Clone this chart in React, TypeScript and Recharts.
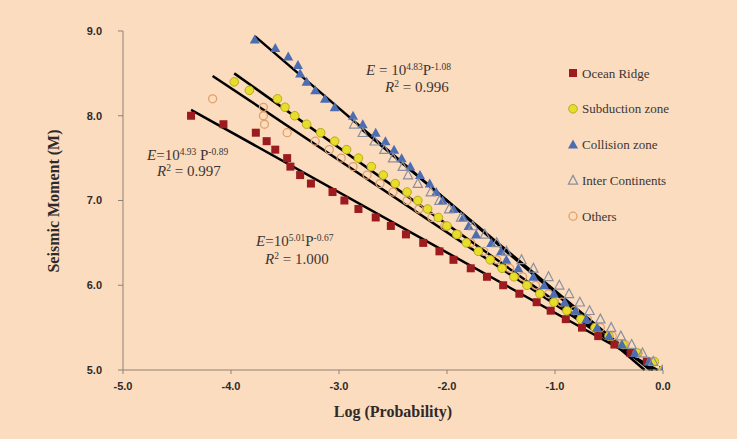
import React from 'react';
import { ScatterChart, Scatter, XAxis, YAxis, ReferenceLine, Customized } from 'recharts';

// ---- Data ----
const oceanM = [8.0, 7.9, 7.8, 7.7, 7.6, 7.5, 7.4, 7.3, 7.2, 7.1, 7.0, 6.9, 6.8, 6.7, 6.6, 6.5, 6.4, 6.3, 6.2, 6.1, 6.0, 5.9, 5.8, 5.7, 5.6, 5.5, 5.4, 5.3, 5.2, 5.1, 5.0];
const oceanLogP = [-4.37, -4.07, -3.77, -3.67, -3.59, -3.48, -3.45, -3.36, -3.26, -3.06, -2.95, -2.82, -2.66, -2.52, -2.38, -2.22, -2.07, -1.94, -1.78, -1.63, -1.48, -1.33, -1.17, -1.04, -0.9, -0.75, -0.6, -0.45, -0.3, -0.15, 0.0];

const subductionM = [8.4, 8.3, 8.2, 8.1, 8.0, 7.9, 7.8, 7.7, 7.6, 7.5, 7.4, 7.3, 7.2, 7.1, 7.0, 6.9, 6.8, 6.7, 6.6, 6.5, 6.4, 6.3, 6.2, 6.1, 6.0, 5.9, 5.8, 5.7, 5.6, 5.5, 5.4, 5.3, 5.2, 5.1, 5.0];
const subductionLogP = [-3.97, -3.83, -3.57, -3.5, -3.41, -3.3, -3.17, -3.04, -2.93, -2.82, -2.7, -2.59, -2.48, -2.37, -2.27, -2.18, -2.08, -2.0, -1.91, -1.82, -1.71, -1.6, -1.49, -1.38, -1.26, -1.14, -1.01, -0.89, -0.76, -0.63, -0.5, -0.37, -0.24, -0.08, 0.0];

const collisionM = [8.9, 8.8, 8.7, 8.6, 8.5, 8.4, 8.3, 8.2, 8.1, 8.0, 7.9, 7.8, 7.7, 7.6, 7.5, 7.4, 7.3, 7.2, 7.1, 7.0, 6.9, 6.8, 6.7, 6.6, 6.5, 6.4, 6.3, 6.2, 6.1, 6.0, 5.9, 5.8, 5.7, 5.6, 5.5, 5.4, 5.3, 5.2, 5.1, 5.0];
const collisionLogP = [-3.78, -3.59, -3.47, -3.38, -3.36, -3.3, -3.22, -3.13, -3.04, -2.87, -2.78, -2.66, -2.57, -2.49, -2.42, -2.34, -2.25, -2.16, -2.1, -2.04, -1.94, -1.85, -1.8, -1.73, -1.59, -1.5, -1.45, -1.34, -1.2, -1.1, -1.01, -0.91, -0.81, -0.71, -0.61, -0.5, -0.38, -0.26, -0.13, 0.0];

const interM = [7.9, 7.8, 7.7, 7.6, 7.5, 7.4, 7.3, 7.2, 7.1, 7.0, 6.9, 6.8, 6.7, 6.6, 6.5, 6.4, 6.3, 6.2, 6.1, 6.0, 5.9, 5.8, 5.7, 5.6, 5.5, 5.4, 5.3, 5.2, 5.1, 5.0];
const interLogP = [-2.86, -2.78, -2.67, -2.58, -2.5, -2.41, -2.36, -2.27, -2.15, -2.07, -1.98, -1.87, -1.76, -1.65, -1.54, -1.45, -1.31, -1.2, -1.06, -0.96, -0.87, -0.77, -0.68, -0.58, -0.48, -0.39, -0.29, -0.19, -0.09, 0.0];

const othersM = [8.2, 8.1, 8.0, 7.9, 7.8, 7.7, 7.6, 7.5, 7.4, 7.3, 7.2, 7.1, 7.0, 6.9, 6.8, 6.7, 6.6, 6.5, 6.4, 6.3, 6.2, 6.1, 6.0, 5.9, 5.8, 5.7, 5.6, 5.5, 5.4, 5.3, 5.2, 5.1, 5.0];
const othersLogP = [-4.17, -3.7, -3.7, -3.69, -3.48, -3.22, -3.09, -2.98, -2.87, -2.74, -2.62, -2.5, -2.37, -2.26, -2.14, -2.02, -1.9, -1.78, -1.66, -1.54, -1.42, -1.3, -1.18, -1.06, -0.94, -0.82, -0.7, -0.58, -0.47, -0.35, -0.23, -0.11, 0.0];

// fitted line end points [logP, M]
const fitOcean = [[-4.37, 8.07], [-0.05, 5.0]];
const fitOthers = [[-4.17, 8.47], [-0.09, 5.0]];
const fitSubduction = [[-3.97, 8.5], [-0.1, 5.0]];
const fitCollision = [[-3.78, 8.94], [-0.17, 5.0]];
const fitInter = [[-2.79, 7.84], [-0.12, 5.0]];

const xTicks = [-5, -4, -3, -2, -1, 0];
const yTicks = [5, 6, 7, 8, 9];

const legendNames = ['Ocean Ridge', 'Subduction zone', 'Collision zone', 'Inter Continents', 'Others'];

const toPts = (xs: number[], ys: number[]) => xs.map((x, i) => ({ x, y: ys[i] }));

const BG = '#FCDCBE';
const SERIF = '"Liberation Serif", "Times New Roman", serif';
const SANS = '"Liberation Sans", Arial, sans-serif';

const Square = (p: any) => <rect x={p.cx - 4} y={p.cy - 4} width={8} height={8} fill="#9C1B1E" />;
const YellowCircle = (p: any) => <circle cx={p.cx} cy={p.cy} r={4.3} fill="#E6DE2A" stroke="#B9AA1E" strokeWidth={1} />;
const BlueTri = (p: any) => (
  <polygon points={`${p.cx},${p.cy - 5} ${p.cx + 5},${p.cy + 4} ${p.cx - 5},${p.cy + 4}`} fill="#4C6DB2" />
);
const HollowTri = (p: any) => (
  <polygon points={`${p.cx},${p.cy - 5} ${p.cx + 4.6},${p.cy + 3.8} ${p.cx - 4.6},${p.cy + 3.8}`} fill="none" stroke="#8C8F9E" strokeWidth={1.2} />
);
const HollowCircle = (p: any) => <circle cx={p.cx} cy={p.cy} r={4} fill="none" stroke="#E2A06A" strokeWidth={1.3} />;

const legendIcons = [Square, YellowCircle, BlueTri, HollowTri, HollowCircle];

const Annotations = () => (
  <g fontFamily={SERIF} fill="#3a3636">
    <text x={366} y={75} fontSize={15}>
      <tspan fontStyle="italic">E</tspan> = 10<tspan dy={-5} fontSize={9.5}>4.83</tspan>
      <tspan dy={5}>P</tspan><tspan dy={-5} fontSize={9.5}>-1.08</tspan>
    </text>
    <text x={385} y={92} fontSize={15}>
      <tspan fontStyle="italic">R</tspan><tspan dy={-5} fontSize={9.5}>2</tspan><tspan dy={5}> = 0.996</tspan>
    </text>

    <text x={147} y={160} fontSize={15}>
      <tspan fontStyle="italic">E</tspan>=10<tspan dy={-5} fontSize={9.5}>4.93</tspan>
      <tspan dy={5}> P</tspan><tspan dy={-5} fontSize={9.5}>-0.89</tspan>
    </text>
    <text x={157} y={176} fontSize={15}>
      <tspan fontStyle="italic">R</tspan><tspan dy={-5} fontSize={9.5}>2</tspan><tspan dy={5}> = 0.997</tspan>
    </text>

    <text x={256} y={246} fontSize={15}>
      <tspan fontStyle="italic">E</tspan>=10<tspan dy={-5} fontSize={9.5}>5.01</tspan>
      <tspan dy={5}>P</tspan><tspan dy={-5} fontSize={9.5}>-0.67</tspan>
    </text>
    <text x={265} y={264} fontSize={15}>
      <tspan fontStyle="italic">R</tspan><tspan dy={-5} fontSize={9.5}>2</tspan><tspan dy={5}> = 1.000</tspan>
    </text>

    <text x={393} y={417} fontSize={16} fontWeight="bold" textAnchor="middle" fill="#2e2a2a">Log (Probability)</text>
    <text x={59} y={201} fontSize={16} fontWeight="bold" textAnchor="middle" fill="#2e2a2a" transform="rotate(-90 59 201)">Seismic Moment (M)</text>

    {legendNames.map((name, i) => {
      const Icon = legendIcons[i];
      const y = 73 + i * 35.8;
      return (
        <g key={name}>
          <Icon cx={573} cy={y} />
          <text x={582} y={y + 4.5} fontSize={13}>{name}</text>
        </g>
      );
    })}
  </g>
);

export default function App() {
  const tickStyle = { fill: '#2e2a2a', fontSize: 11, fontWeight: 'bold', fontFamily: SANS } as any;
  return (
    <div style={{ position: 'absolute', left: 0, top: 0, width: 737, height: 439, background: BG }}>
      <ScatterChart width={737} height={439} margin={{ top: 31, right: 74, bottom: 10, left: 0 }}>
        <XAxis
          type="number"
          dataKey="x"
          domain={[-5, 0]}
          ticks={xTicks}
          tickFormatter={(v: number) => v.toFixed(1)}
          stroke="#8e8176"
          tick={tickStyle}
          tickSize={4}
          tickMargin={8}
          height={59}
          allowDataOverflow
        />
        <YAxis
          type="number"
          dataKey="y"
          domain={[5, 9]}
          ticks={yTicks}
          tickFormatter={(v: number) => v.toFixed(1)}
          stroke="#8e8176"
          tick={tickStyle}
          tickSize={5}
          tickMargin={16}
          width={123}
          allowDataOverflow
        />
        <Scatter name="Ocean Ridge" data={toPts(oceanLogP, oceanM)} shape={Square} isAnimationActive={false} />
        <Scatter name="Others" data={toPts(othersLogP, othersM)} shape={HollowCircle} isAnimationActive={false} />
        <Scatter name="Subduction zone" data={toPts(subductionLogP, subductionM)} shape={YellowCircle} isAnimationActive={false} />
        <Scatter name="Collision zone" data={toPts(collisionLogP, collisionM)} shape={BlueTri} isAnimationActive={false} />
        <Scatter name="Inter Continents" data={toPts(interLogP, interM)} shape={HollowTri} isAnimationActive={false} />
        {[fitOcean, fitOthers, fitSubduction, fitCollision, fitInter].map((seg, i) => (
          <ReferenceLine
            key={i}
            segment={[{ x: seg[0][0], y: seg[0][1] }, { x: seg[1][0], y: seg[1][1] }]}
            stroke="#000"
            strokeWidth={2.5}
          />
        ))}
        <Customized component={Annotations} />
      </ScatterChart>
    </div>
  );
}
